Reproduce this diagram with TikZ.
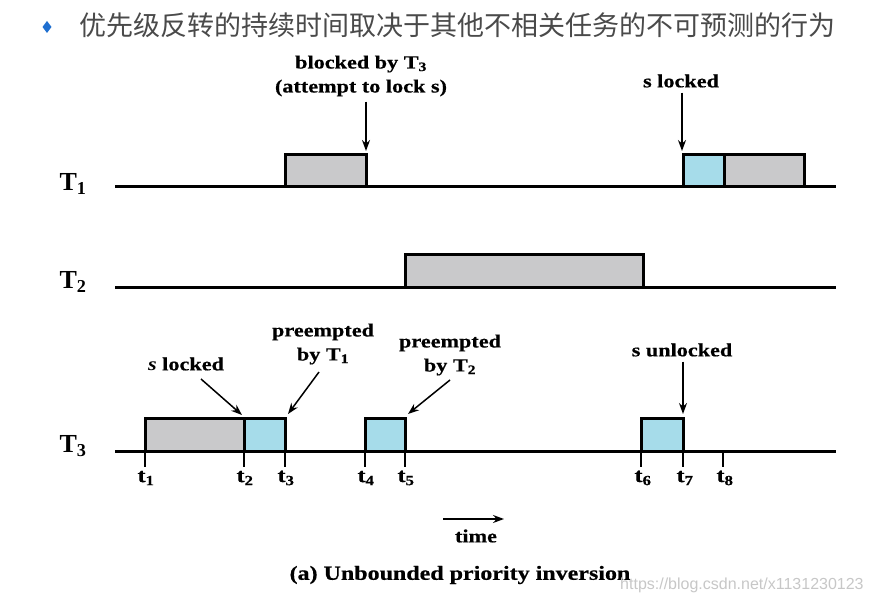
\documentclass[tikz,border=0pt]{standalone}
\usepackage{fontspec}
\setmainfont{Liberation Serif}
\newfontfamily\cjk{Noto Sans CJK SC}
\newfontfamily\urlfont{Liberation Sans}
\newfontfamily\widefont[FakeStretch=1.2, BoldFeatures={FakeBold=0.6}]{Liberation Serif}
\usepackage{xcolor}
\usetikzlibrary{arrows.meta, calc, positioning}

\definecolor{runGray}{HTML}{C9C9CB}
\definecolor{critBlue}{HTML}{A6DCEA}
\definecolor{dotBlue}{HTML}{1F6FD0}
\definecolor{titleGray}{HTML}{4A4A4A}

\tikzset{
    task/.style={font=\bfseries\fontsize{26}{28}\selectfont},
    lbl/.style={font=\widefont\bfseries\fontsize{18.5}{24}\selectfont, align=center, inner sep=1pt},
    tlbl/.style={font=\widefont\bfseries\fontsize{20}{22}\selectfont, inner sep=1pt},
    axis/.style={line width=3pt},
    run/.style={draw, line width=3pt, fill=runGray},
    crit/.style={draw, line width=3pt, fill=critBlue},
    ptr/.style={line width=1.5pt, -{Stealth[length=11pt, width=8pt]}},
    tick/.style={line width=1.8pt}
}

\begin{document}
\begin{tikzpicture}[x=1pt, y=-1pt]
    \useasboundingbox (0, 0) rectangle (872, 604);

    % title
    \fill[dotBlue] (47, 21) -- (51.5, 27) -- (47, 33) -- (42.5, 27) -- cycle;
    \node[anchor=west, inner sep=0pt, text=titleGray, font=\cjk\fontsize{27}{30}\selectfont] (title) at (79, 25) {优先级反转的持续时间取决于其他不相关任务的不可预测的行为};

    % T1
    \node[task] (T1) at (73, 184) {T\textsubscript{1}};
    \draw[axis] (115, 187) -- (836, 187);
    \draw[run] (285, 187) rectangle (366, 155);
    \draw[crit] (683, 187) rectangle (724, 155);
    \draw[run] (724, 187) rectangle (804, 155);

    \node[lbl] (blk) at (361, 76) {blocked by T\textsubscript{3}\\(attempt to lock s)};
    \coordinate (blkEnd) at (366, 151);
    \draw[ptr] ($(blk.south) + (5, 4)$) -- (blkEnd);

    \node[lbl] (lockA) at (681, 81) {s locked};
    \coordinate (lockAEnd) at (682, 151);
    \draw[ptr] ($(lockA.south -| lockAEnd) + (0, 4)$) -- (lockAEnd);

    % T2
    \node[task] (T2) at (73, 282) {T\textsubscript{2}};
    \draw[axis] (115, 287) -- (836, 287);
    \draw[run] (405, 287) rectangle (643, 254);

    % T3
    \node[task] (T3) at (73, 446) {T\textsubscript{3}};
    \draw[axis] (115, 451) -- (836, 451);
    \draw[run] (145, 451) rectangle (244, 418);
    \draw[crit] (244, 451) rectangle (285, 418);
    \draw[crit] (365, 451) rectangle (405, 418);
    \draw[crit] (641, 451) rectangle (683, 418);

    % instants
    \draw[tick] (145, 451) -- (145, 467);
    \draw[tick] (244, 451) -- (244, 467);
    \draw[tick] (285, 451) -- (285, 467);
    \draw[tick] (365, 451) -- (365, 467);
    \draw[tick] (405, 451) -- (405, 467);
    \draw[tick] (641, 451) -- (641, 467);
    \draw[tick] (683, 451) -- (683, 467);
    \draw[tick] (723, 451) -- (723, 467);
    \node[tlbl] (t1) at (146, 478) {t\textsubscript{1}};
    \node[tlbl] (t2) at (245, 478) {t\textsubscript{2}};
    \node[tlbl] (t3) at (286, 478) {t\textsubscript{3}};
    \node[tlbl] (t4) at (366, 478) {t\textsubscript{4}};
    \node[tlbl] (t5) at (406, 478) {t\textsubscript{5}};
    \node[tlbl] (t6) at (643, 478) {t\textsubscript{6}};
    \node[tlbl] (t7) at (685, 478) {t\textsubscript{7}};
    \node[tlbl] (t8) at (725, 478) {t\textsubscript{8}};

    % T3 notes
    \node[lbl] (lockB) at (186, 364) {\textit{s} locked};
    \coordinate (lockBEnd) at (242, 415);
    \draw[ptr] (201, 379) -- (lockBEnd);

    \node[lbl] (preA) at (323, 344) {preempted\\by T\textsubscript{1}};
    \coordinate (preAEnd) at (288, 414);
    \draw[ptr] (319, 372) -- (preAEnd);

    \node[lbl] (preB) at (450, 355) {preempted\\by T\textsubscript{2}};
    \coordinate (preBEnd) at (408, 414);
    \draw[ptr] (450, 380) -- (preBEnd);

    \node[lbl] (unlock) at (682, 350) {s unlocked};
    \coordinate (unlockEnd) at (683, 414);
    \draw[ptr] ($(unlock.south -| unlockEnd) + (0, 4)$) -- (unlockEnd);

    % time arrow and caption
    \coordinate (timeA) at (443, 519);
    \coordinate (timeB) at (504, 519);
    \draw[ptr] (timeA) -- (timeB);
    \node[lbl] (time) at (476, 536) {time};
    \node[lbl, font=\widefont\bfseries\fontsize{20}{22}\selectfont] (cap) at (460, 575) {(a) Unbounded priority inversion};

    \node[anchor=west, inner sep=0pt, text=black!22, font=\urlfont\fontsize{16}{18}\selectfont] (url) at (620, 585) {https://blog.csdn.net/x1131230123};
\end{tikzpicture}
\end{document}
